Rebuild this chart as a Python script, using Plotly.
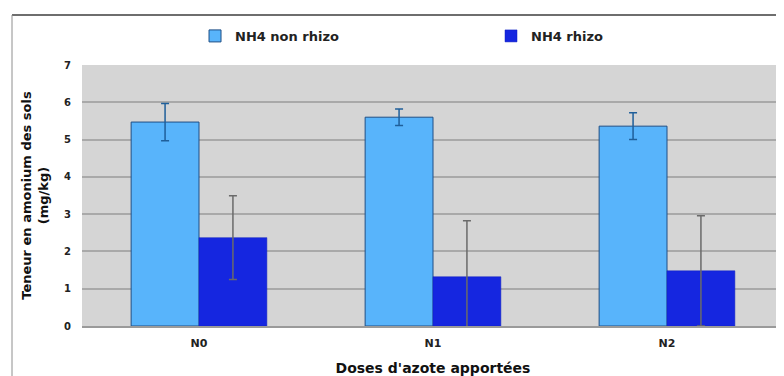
import plotly.graph_objects as go

categories = ["N0", "N1", "N2"]
non_rhizo = [5.47, 5.60, 5.36]
non_rhizo_err = [0.50, 0.22, 0.36]
rhizo = [2.37, 1.32, 1.48]
rhizo_err = [1.12, 1.50, 1.48]

FONT = "DejaVu Sans"

fig = go.Figure()
fig.add_trace(go.Bar(
    x=categories, y=non_rhizo, name="NH4 non rhizo",
    marker=dict(color="#58b4fb", line=dict(color="#1f4f86", width=1)),
    error_y=dict(type="data", array=non_rhizo_err, color="#1f5f9a", thickness=1.5, width=4),
))
fig.add_trace(go.Bar(
    x=categories, y=rhizo, name="NH4 rhizo",
    marker=dict(color="#1526e0", line=dict(color="#1020c0", width=0.5)),
    error_y=dict(type="data", array=rhizo_err, color="#6a6a6a", thickness=1.5, width=4),
))

fig.update_layout(
    width=776, height=368,
    margin=dict(l=74, r=0, t=57, b=50),
    paper_bgcolor="white",
    plot_bgcolor="#d5d5d5",
    barmode="group",
    bargap=0.42,
    bargroupgap=0,
    font=dict(family=FONT, size=11, color="#111111"),
    showlegend=True,
    legend=dict(
        orientation="h", xref="container", yref="container",
        x=0.241, y=0.924, xanchor="left", yanchor="middle",
        entrywidth=251, entrywidthmode="pixels",
        font=dict(family=FONT, size=13, color="#222222", weight="bold"),
        bgcolor="rgba(0,0,0,0)",
    ),
    xaxis=dict(
        showgrid=False, showline=True, linecolor="#9a9a9a", linewidth=2,
        tickfont=dict(family=FONT, size=11, weight="bold", color="#222222"),
        ticks="", ticklabelstandoff=6,
        title=dict(text="Doses d'azote apportées", standoff=14,
                   font=dict(family=FONT, size=14, weight="bold", color="#111111")),
    ),
    yaxis=dict(
        range=[0, 7], dtick=1, showgrid=True, gridcolor="#a9a9a9", gridwidth=2,
        zeroline=False, showline=False,
        tickfont=dict(family=FONT, size=10, weight="bold", color="#222222"),
        ticks="", ticklabelstandoff=10,
        title=dict(text="Teneur en amonium des sols<br>(mg/kg)", standoff=12,
                   font=dict(family=FONT, size=13, weight="bold", color="#111111")),
    ),
    shapes=[
        dict(type="line", xref="paper", yref="paper", x0=-0.0997, x1=1.01,
             y0=1.1916, y1=1.1916, line=dict(color="#6e6e6e", width=2)),
        dict(type="line", xref="paper", yref="paper", x0=-0.0997, x1=-0.0997,
             y0=1.1916, y1=-0.25, line=dict(color="#8e8e8e", width=1)),
    ],
)

fig.write_html("out.html")
